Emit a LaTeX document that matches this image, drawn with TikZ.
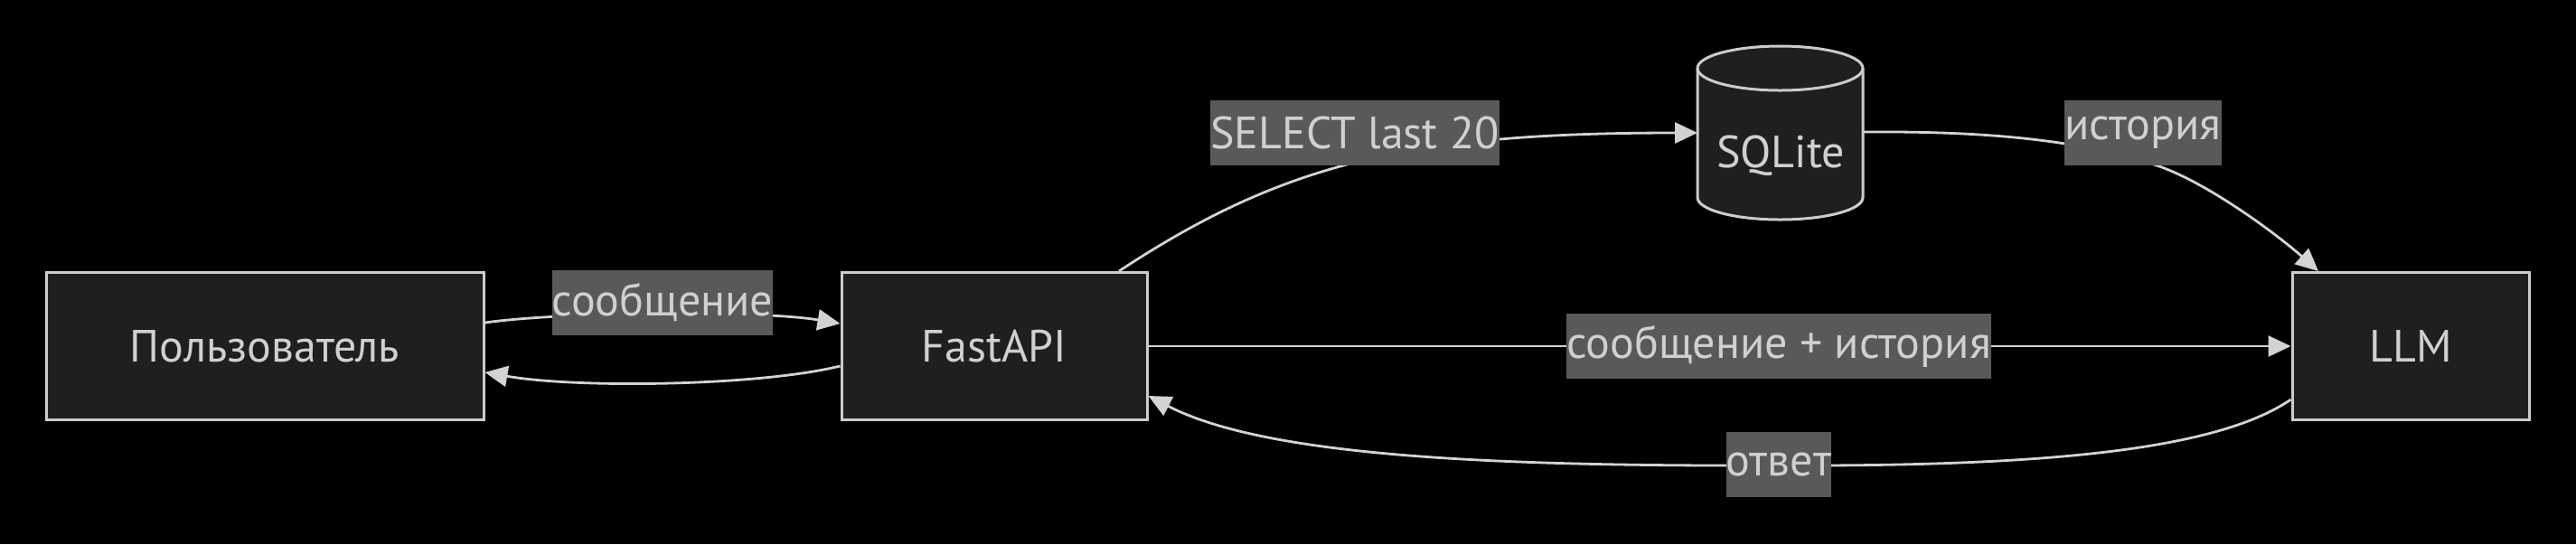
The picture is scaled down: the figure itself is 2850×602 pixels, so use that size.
\documentclass[tikz,border=0pt]{standalone}
\usepackage{fontspec}
\setmainfont{PT Sans}
\usetikzlibrary{arrows.meta}
\definecolor{boxfill}{HTML}{1F1F1F}
\definecolor{boxline}{HTML}{CCCCCC}
\definecolor{lblfill}{HTML}{595959}
\definecolor{txt}{HTML}{D0D0D0}
\definecolor{edgecol}{HTML}{D3D3D3}
\begin{document}
\begin{tikzpicture}[x=0.5pt,y=-0.5pt,
  box/.style={draw=boxline, line width=1.5pt, fill=boxfill, text=txt, font=\fontsize{25}{30}\selectfont, inner sep=0pt, minimum height=81.5pt},
  lbl/.style={fill=lblfill, text=txt, font=\fontsize{25}{30}\selectfont, inner xsep=0pt, inner ysep=0pt, minimum height=36pt},
  conn/.style={draw=edgecol, line width=1.4pt, -{Triangle[length=12.5pt,width=11.5pt]}}]
\fill[black] (0,0) rectangle (2850,602);
\useasboundingbox (0,0) rectangle (2850,602);

\node[box, minimum width=242pt] (user) at (293,383) {Пользователь};
\node[box, minimum width=169pt] (fastapi) at (1100,383) {FastAPI};
\node[box, minimum width=131pt] (llm) at (2667,383) {LLM};

% cylinder
\draw[boxline, line width=1.5pt, fill=boxfill] (1878,75.5) -- (1878,218.5)
  arc[start angle=180, end angle=360, x radius=45.75pt, y radius=12.25pt]
  -- (2061,75.5)
  arc[start angle=0, end angle=180, x radius=45.75pt, y radius=12.25pt] -- cycle;
\draw[boxline, line width=1.5pt] (1878,75.5)
  arc[start angle=180, end angle=360, x radius=45.75pt, y radius=12.25pt];
\node[text=txt, font=\fontsize{25}{30}\selectfont, inner sep=0pt, minimum width=91.5pt, minimum height=96pt] (sqlite) at (1970,172) {SQLite};

\draw[conn] ([yshift=13pt]user.east) .. controls (620,345) and (840,343) .. ([yshift=12.5pt]fastapi.west);
\draw[conn] ([yshift=-11pt]fastapi.west) .. controls (840,427) and (640,430) .. ([yshift=-14.5pt]user.east);
\draw[conn] ([xshift=69pt]fastapi.north) .. controls (1420,180) and (1560,147) .. ([yshift=12.5pt]sqlite.west);
\draw[conn] ([yshift=13pt]sqlite.east) .. controls (2200,145) and (2300,155) .. (2383,182)
  .. controls (2440,200) and (2520,260) .. ([xshift=-51pt]llm.north);
\draw[conn] (fastapi.east) -- (llm.west);
\draw[conn] ([yshift=-29.5pt]llm.west) .. controls (2450,500) and (2250,516) .. (1968,515)
  .. controls (1650,516) and (1400,505) .. ([yshift=-27.5pt]fastapi.east);

\node[lbl] (l1) at (733,335) {сообщение};
\node[lbl] (l2) at (1499,147) {SELECT last 20};
\node[lbl] (l3) at (2371,147) {история};
\node[lbl] (l4) at (1968,383) {сообщение + история};
\node[lbl] (l5) at (1968,514) {ответ};
\end{tikzpicture}
\end{document}
